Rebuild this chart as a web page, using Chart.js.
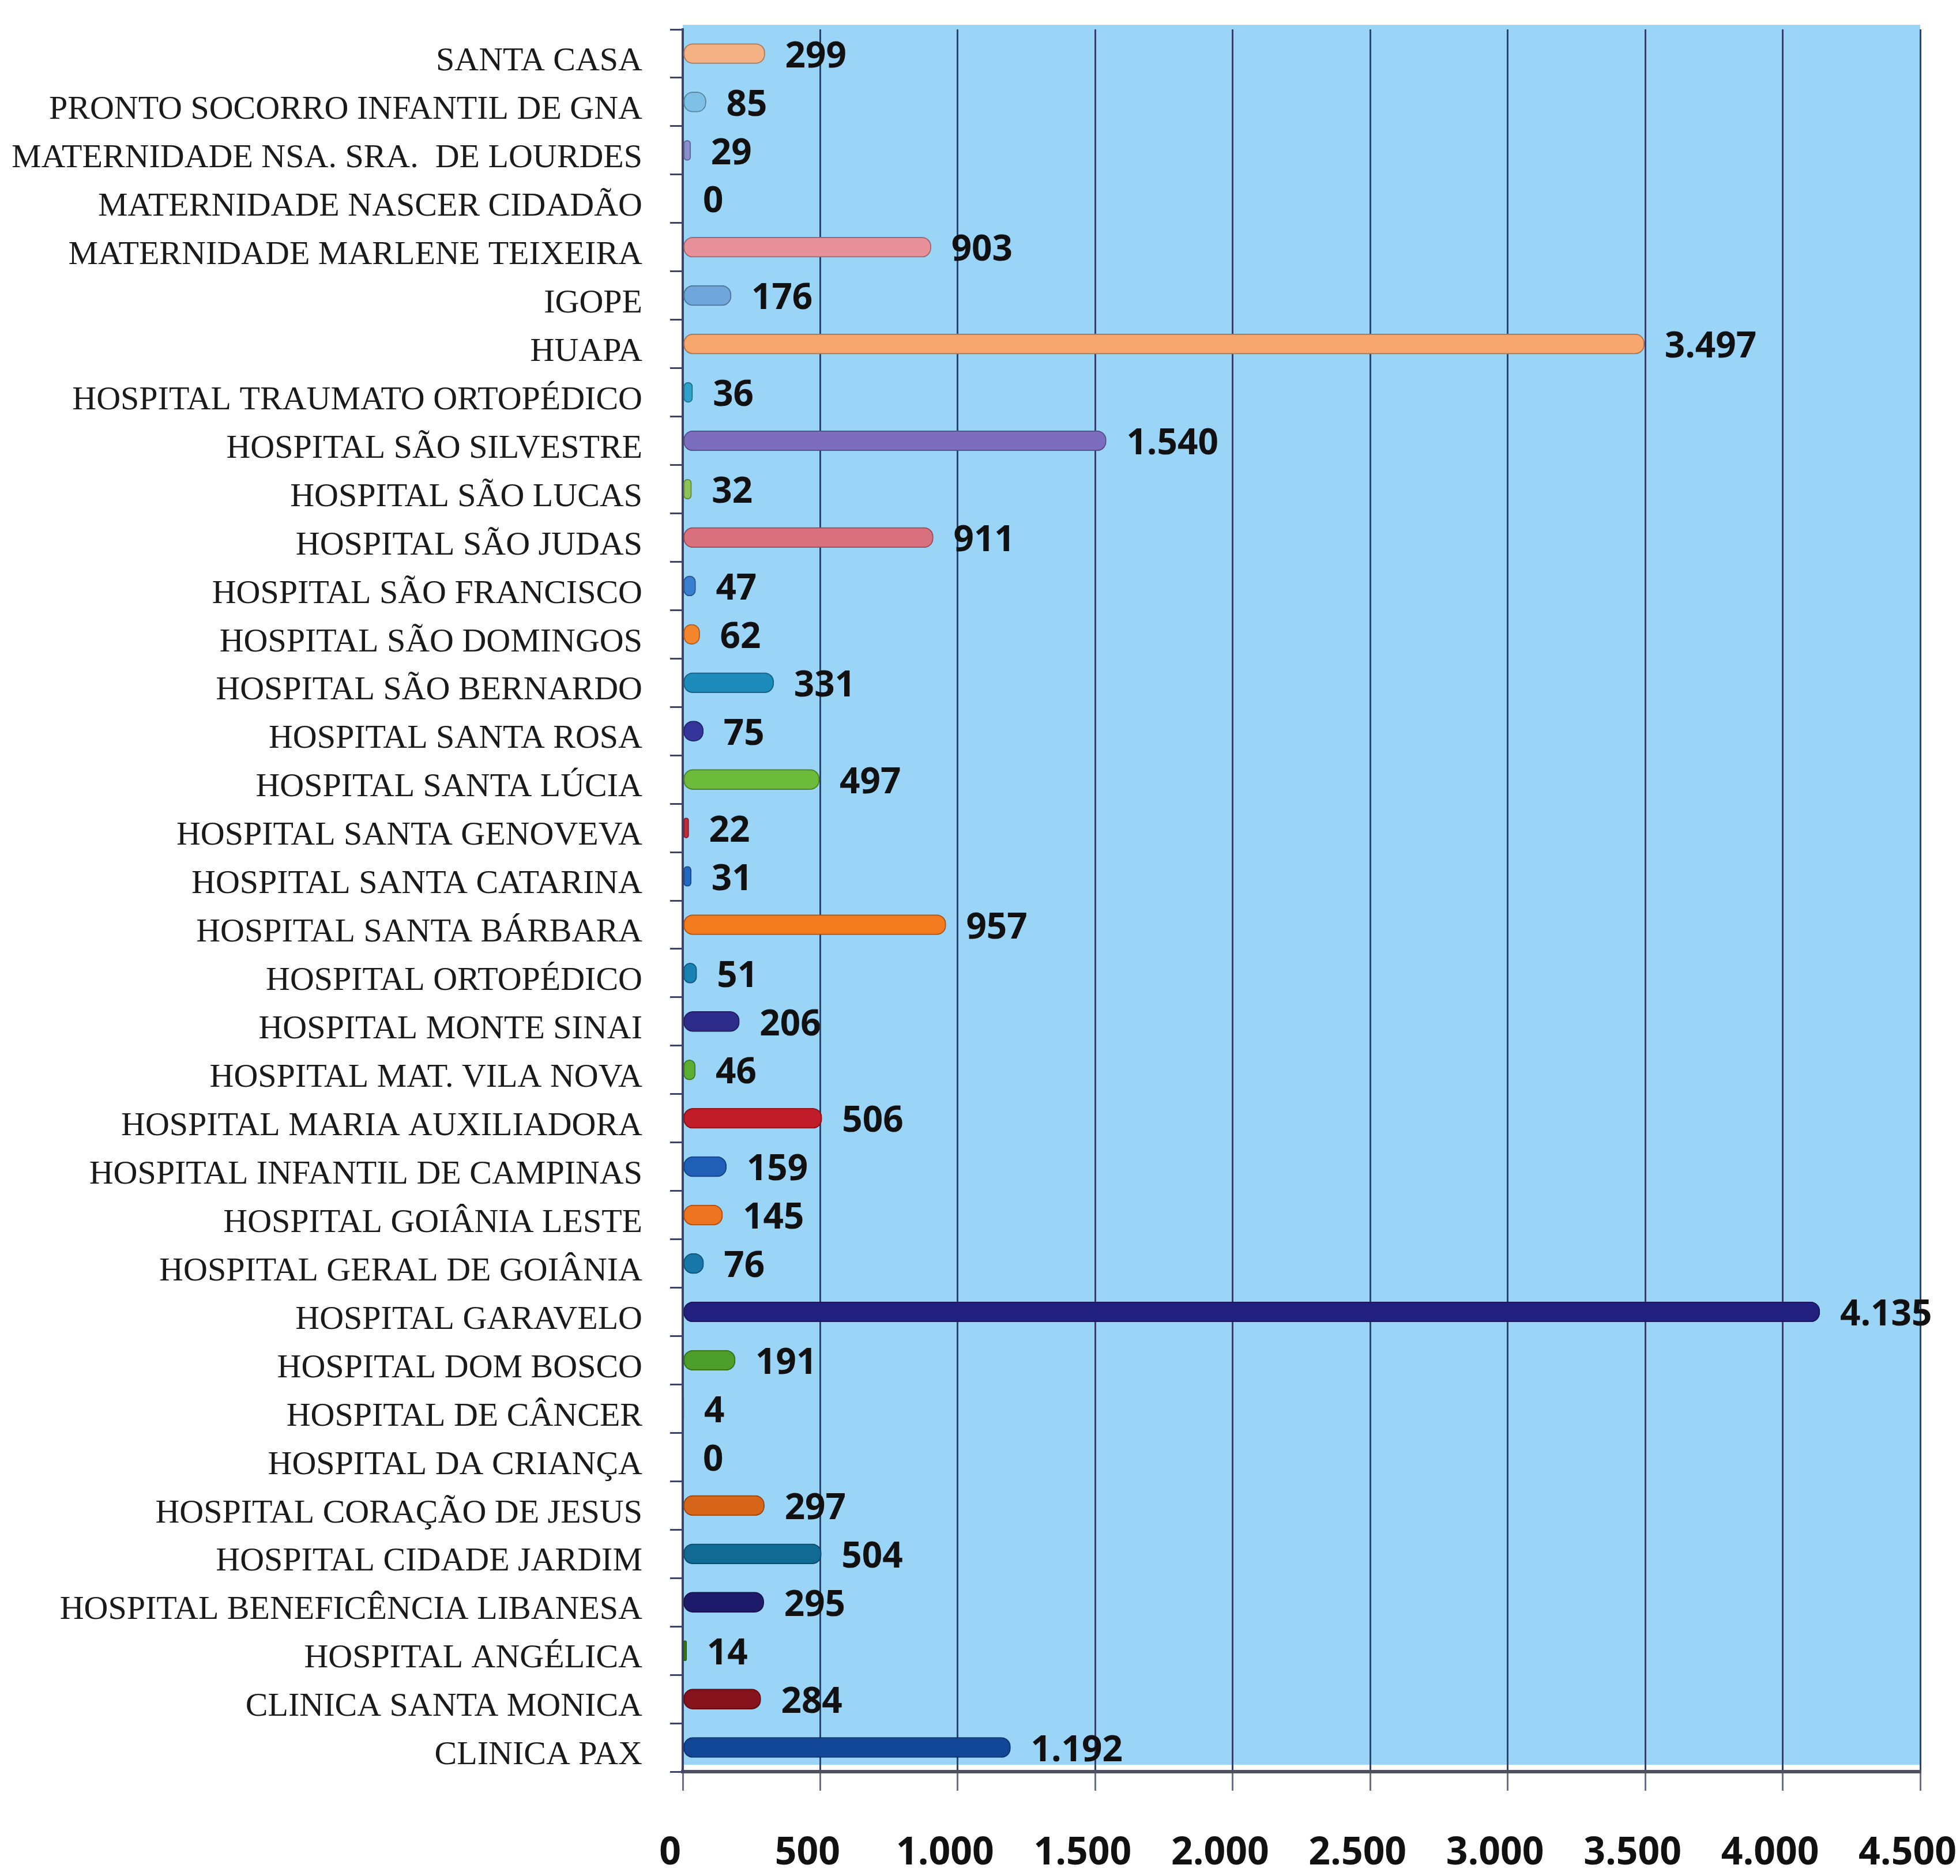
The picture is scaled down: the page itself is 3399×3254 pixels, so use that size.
<!DOCTYPE html>
<html>
<head>
<meta charset="utf-8">
<script src="https://cdn.jsdelivr.net/npm/chart.js@4/dist/chart.umd.min.js"></script>
<style>
  html, body { margin: 0; padding: 0; background: #fff; }
  #wrap { width: 3399px; height: 3254px; }
</style>
</head>
<body>
<div id="wrap"><canvas id="chart" width="3399" height="3254"></canvas></div>
<script>
const hospitals = [
  'SANTA CASA',
  'PRONTO SOCORRO INFANTIL DE GNA',
  'MATERNIDADE NSA. SRA.  DE LOURDES',
  'MATERNIDADE NASCER CIDADÃO',
  'MATERNIDADE MARLENE TEIXEIRA',
  'IGOPE',
  'HUAPA',
  'HOSPITAL TRAUMATO ORTOPÉDICO',
  'HOSPITAL SÃO SILVESTRE',
  'HOSPITAL SÃO LUCAS',
  'HOSPITAL SÃO JUDAS',
  'HOSPITAL SÃO FRANCISCO',
  'HOSPITAL SÃO DOMINGOS',
  'HOSPITAL SÃO BERNARDO',
  'HOSPITAL SANTA ROSA',
  'HOSPITAL SANTA LÚCIA',
  'HOSPITAL SANTA GENOVEVA',
  'HOSPITAL SANTA CATARINA',
  'HOSPITAL SANTA BÁRBARA',
  'HOSPITAL ORTOPÉDICO',
  'HOSPITAL MONTE SINAI',
  'HOSPITAL MAT. VILA NOVA',
  'HOSPITAL MARIA AUXILIADORA',
  'HOSPITAL INFANTIL DE CAMPINAS',
  'HOSPITAL GOIÂNIA LESTE',
  'HOSPITAL GERAL DE GOIÂNIA',
  'HOSPITAL GARAVELO',
  'HOSPITAL DOM BOSCO',
  'HOSPITAL DE CÂNCER',
  'HOSPITAL DA CRIANÇA',
  'HOSPITAL CORAÇÃO DE JESUS',
  'HOSPITAL CIDADE JARDIM',
  'HOSPITAL BENEFICÊNCIA LIBANESA',
  'HOSPITAL ANGÉLICA',
  'CLINICA SANTA MONICA',
  'CLINICA PAX'
];

const totals = [
  299, 85, 29, 0, 903, 176, 3497, 36, 1540, 32, 911, 47, 62, 331, 75, 497, 22, 31,
  957, 51, 206, 46, 506, 159, 145, 76, 4135, 191, 4, 0, 297, 504, 295, 14, 284, 1192
];

const xTicks = [0, 500, 1000, 1500, 2000, 2500, 3000, 3500, 4000, 4500];

const barColors = [
  '#F4B183', '#7EC0E6', '#8A8ED0', '#7A9A50', '#E8919B', '#6FA6DC', '#F7A66E', '#2FA2CC',
  '#7D6DBF', '#8CC458', '#D9707E', '#3A7ECF', '#F5862E', '#1E8BBD', '#34349A', '#6DBB3A',
  '#C22A3A', '#2468C2', '#F47A1E', '#1982B4', '#2E2C8A', '#5BAE34', '#C01C2A', '#1F5FB8',
  '#EE7422', '#1677A8', '#22207E', '#4C9E2A', '#9E1626', '#1A52A4', '#D8661A', '#116A94',
  '#1E1B6A', '#3B8420', '#86121C', '#124696'
];

// 1234 -> "1.234"
function fmt(v) {
  return String(v).replace(/\B(?=(\d{3})+(?!\d))/g, '.');
}

function darker(hex) {
  const n = parseInt(hex.slice(1), 16);
  const r = Math.round(((n >> 16) & 255) * 0.7);
  const g = Math.round(((n >> 8) & 255) * 0.7);
  const b = Math.round((n & 255) * 0.7);
  return 'rgb(' + r + ',' + g + ',' + b + ')';
}

const plotBg = {
  id: 'plotBg',
  beforeDraw(chart) {
    const a = chart.chartArea;
    const ctx = chart.ctx;
    ctx.save();
    ctx.fillStyle = '#9AD4F7';
    ctx.fillRect(a.left, a.top - 8, a.right - a.left, a.bottom - a.top - 4);
    ctx.restore();
  }
};

const valueLabels = {
  id: 'valueLabels',
  afterDatasetsDraw(chart) {
    const ctx = chart.ctx;
    const meta = chart.getDatasetMeta(0);
    ctx.save();
    ctx.font = 'bold 62px "Open Sans"';
    ctx.fillStyle = '#111';
    ctx.textAlign = 'left';
    ctx.textBaseline = 'middle';
    meta.data.forEach((bar, i) => {
      ctx.fillText(fmt(totals[i]), bar.x + 35, bar.y + 6);
    });
    ctx.restore();
  }
};

const ctx = document.getElementById('chart').getContext('2d');

new Chart(ctx, {
  type: 'bar',
  data: {
    labels: hospitals,
    datasets: [{
      data: totals,
      backgroundColor: barColors,
      borderColor: barColors.map(darker),
      borderWidth: 2,
      borderRadius: 16,
      borderSkipped: false,
      barThickness: 35
    }]
  },
  options: {
    indexAxis: 'y',
    responsive: false,
    animation: false,
    layout: { padding: { top: 51, right: 69, left: 0, bottom: 0 } },
    plugins: {
      legend: { display: false },
      tooltip: { enabled: false }
    },
    scales: {
      x: {
        min: 0,
        max: 4500,
        afterBuildTicks(scale) {
          scale.ticks = xTicks.map(v => ({ value: v }));
        },
        afterFit(scale) {
          scale.height = 181;
          scale.paddingLeft = 0;
          scale.paddingRight = 0;
        },
        grid: {
          color: '#34406e',
          lineWidth: 3,
          tickLength: 33,
          tickColor: '#6a6f88'
        },
        border: { color: '#4e5060', width: 6 },
        ticks: {
          padding: 70,
          labelOffset: -22,
          color: '#111',
          font: { family: '"Open Sans"', size: 66, weight: 'bold' },
          callback: v => fmt(v)
        }
      },
      y: {
        afterFit(scale) {
          scale.width = 1184;
          scale.paddingTop = 0;
          scale.paddingBottom = 0;
        },
        grid: {
          drawOnChartArea: false,
          tickLength: 22,
          tickColor: '#3e4466',
          lineWidth: 3
        },
        border: { color: '#3e4466', width: 4 },
        ticks: {
          padding: 48,
          labelOffset: 14,
          autoSkip: false,
          color: '#1a1a1a',
          font: { family: '"Liberation Serif"', size: 58 }
        }
      }
    }
  },
  plugins: [plotBg, valueLabels]
});
</script>
</body>
</html>
